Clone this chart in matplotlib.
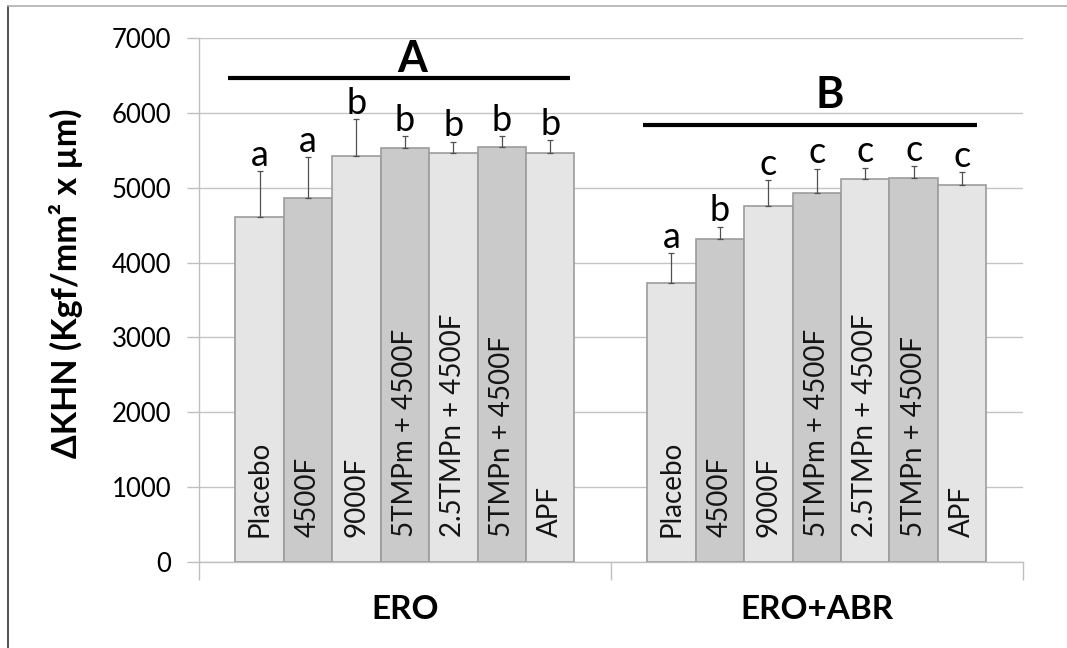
import matplotlib
matplotlib.use("Agg")
import matplotlib.pyplot as plt
from matplotlib.lines import Line2D
import numpy as np

plt.rcParams['font.family'] = ['Lato', 'DejaVu Sans']

groups = ["ERO", "ERO+ABR"]
treatments = ["Placebo", "4500F", "9000F", "5TMPm + 4500F", "2.5TMPn + 4500F",
              "5TMPn + 4500F", "APF"]
means_ero = [4610, 4860, 5425, 5525, 5460, 5540, 5470]
sd_ero = [615, 550, 490, 160, 155, 145, 165]
means_abr = [3730, 4310, 4755, 4935, 5120, 5135, 5035]
sd_abr = [400, 170, 345, 320, 150, 150, 170]
letters_ero = ["a", "a", "b", "b", "b", "b", "b"]
letters_abr = ["a", "b", "c", "c", "c", "c", "c"]
group_letters = ["A", "B"]
yticks = [0, 1000, 2000, 3000, 4000, 5000, 6000, 7000]

means = [means_ero, means_abr]
sds = [sd_ero, sd_abr]
letters = [letters_ero, letters_abr]

fig = plt.figure(figsize=(10.67, 6.48), dpi=100)
ax = fig.add_axes([199/1067, 1 - 562/648, (1022.7 - 199)/1067, (562 - 38)/648])

w = 0.1176
light = "#e5e5e5"
dark = "#cacaca"
edge = "#9c9c9c"
n = len(treatments)
for g in range(len(groups)):
    xs = g + (np.arange(n) - (n - 1) / 2) * w
    cols = [light if i % 2 == 0 else dark for i in range(n)]
    ax.bar(xs, means[g], width=w, color=cols, edgecolor=edge, linewidth=1.2, zorder=3)
    ax.errorbar(xs, means[g], yerr=[np.zeros(n), sds[g]], fmt='none',
                ecolor="#505050", elinewidth=0.9, capsize=2, capthick=0.9, zorder=4)
    for i in range(n):
        ax.text(xs[i], 340, treatments[i], rotation=90, ha='center', va='bottom',
                fontsize=20, color='#151515', zorder=5)
        ax.text(xs[i], means[g][i] + sds[g][i] + 70, letters[g][i], ha='center',
                va='baseline', fontsize=26, color='black', zorder=5)

# group significance lines
ax.plot([-0.43, 0.40], [6460, 6460], color='black', lw=3, solid_capstyle='butt',
        clip_on=False, zorder=5)
ax.text(0.0165, 6545, group_letters[0], ha='center', va='baseline', fontsize=31,
        fontweight='bold')
ax.plot([0.578, 1.39], [5840, 5840], color='black', lw=3, solid_capstyle='butt',
        clip_on=False, zorder=5)
ax.text(1.032, 6065, group_letters[1], ha='center', va='baseline', fontsize=31,
        fontweight='bold')

ax.set_xlim(-0.5, 1.5)
ax.set_ylim(0, 7000)
ax.set_yticks(yticks)
ax.set_yticklabels([str(t) for t in yticks], fontsize=18.5)
ax.set_xticks([0, 1])
ax.set_xticklabels(groups, fontsize=24, fontweight='bold')
ax.set_xticks([-0.5, 0.5, 1.5], minor=True)
ax.tick_params(axis='x', which='major', length=0, pad=24)
ax.tick_params(axis='x', which='minor', length=13, color='#bfbfbf', width=1)
ax.tick_params(axis='y', length=9, color='#bfbfbf', width=1, pad=11)
ax.yaxis.grid(True, color='#c4c4c4', lw=1)
ax.set_axisbelow(True)
for s in ['top', 'right']:
    ax.spines[s].set_visible(False)
for s in ['left', 'bottom']:
    ax.spines[s].set_color('#bfbfbf')
    ax.spines[s].set_linewidth(1)

fig.text(66/1067, 1 - 283/648, "ΔKHN (Kgf/mm² x µm)", rotation=90, ha='center',
         va='center', fontsize=24.5, fontweight='bold')

# chart border
fig.add_artist(Line2D([7.5/1067, 7.5/1067], [0, 1 - 6/648], color='#333333', lw=1.2))
fig.add_artist(Line2D([7.5/1067, 1], [1 - 6/648, 1 - 6/648], color='#b0b0b0', lw=1.2))

fig.savefig("out.png", dpi=100)
